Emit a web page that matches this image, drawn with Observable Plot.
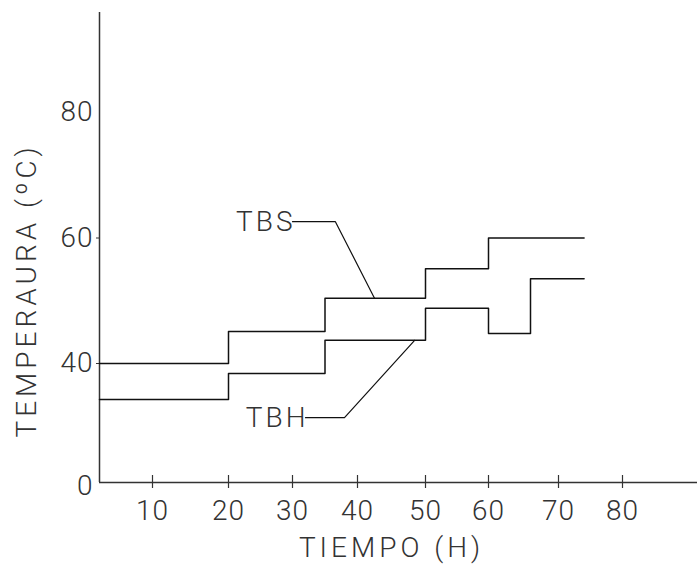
<!DOCTYPE html>
<html>
<head>
<meta charset="utf-8">
<script src="https://cdn.jsdelivr.net/npm/d3@7"></script>
<script src="https://cdn.jsdelivr.net/npm/@observablehq/plot@0.6"></script>
<style>
  html, body { margin: 0; padding: 0; background: #fff; }
</style>
</head>
<body>
<div id="chart"></div>
<script>
// Time (h) and temperature (ºC) series
const tiempo = [0, 20, 35, 50, 60, 66, 74];
const tbs    = [40, 45.1, 50.4, 55.1, 60, 60, 60];
const tbh    = [27.9, 36.6, 43.7, 48.8, 44.8, 53.5, 53.5];

// Axis ticks
const xTicks = [10, 20, 30, 40, 50, 60, 70, 80];
const yTicks = [40, 60];
const yTop = [80];
const yZero = [0];

// Series labels with leader lines (data coordinates)
const labels = ["TBS", "TBH"];
const labelX = [30, 32];
const labelY = [62.6, 21.8];
const leaderTBS_x = [30, 36.6, 42.5];
const leaderTBS_y = [62.6, 62.6, 50.4];
const leaderTBH_x = [32, 38, 48.4];
const leaderTBH_y = [21.8, 21.8, 43.7];

const series = [];
tiempo.forEach((t, i) => {
  series.push({serie: "TBS", t, v: tbs[i]});
  series.push({serie: "TBH", t, v: tbh[i]});
});
const leaders = [];
leaderTBS_x.forEach((x, i) => leaders.push({k: "TBS", x, y: leaderTBS_y[i]}));
leaderTBH_x.forEach((x, i) => leaders.push({k: "TBH", x, y: leaderTBH_y[i]}));
const labelData = labels.map((s, i) => ({s, x: labelX[i], y: labelY[i]}));

// Hand-drawn (uneven) axis graduations of the original: piecewise maps
const xMap = d3.scaleLinear()
  .domain([0, 10, 20, 30, 40, 50, 60, 70, 80, 90])
  .range([0, 53, 129, 193, 258, 326, 389, 459, 523, 598]);
const yMap = d3.scaleLinear()
  .domain([0, 40, 80])
  .range([0, 119, 370]);

const font = {fontFamily: "Roboto", fontSize: 28, fontWeight: 300};
const ink = "#333";

const chart = Plot.plot({
  width: 698,
  height: 564,
  marginLeft: 99,
  marginRight: 1,
  marginTop: 12,
  marginBottom: 82,
  style: {fontFamily: "Roboto", fontSize: "28px", fontWeight: 300, color: ink, background: "#fff"},
  x: {transform: xMap, domain: [0, 598], range: [99, 697]},
  y: {transform: yMap, domain: [0, 370], range: [482, 112]},
  marks: [
    Plot.ruleX([0], {x: d => d, stroke: "#333", strokeWidth: 1.5}),
    Plot.ruleY([0], {y: d => d, stroke: "#333", strokeWidth: 1.5}),
    Plot.axisX(xTicks, {tickSize: 13, dy: -7, tickFormat: () => "", label: null, stroke: "#333", strokeWidth: 1.2}),
    Plot.axisX(xTicks, {tickSize: 0, tickPadding: 18, label: null, fill: ink, ...font}),
    Plot.axisY(yTicks, {tickSize: 3, tickPadding: 3, label: null, fill: ink, stroke: "#333", ...font}),
    Plot.axisY(yTop, {tickSize: 0, tickPadding: 6, label: null, fill: ink, ...font}),
    Plot.axisY(yZero, {tickSize: 0, tickPadding: 6, dy: 4, label: null, fill: ink, ...font}),
    Plot.line(series, {x: "t", y: "v", z: "serie", curve: "step-after", stroke: "#111", strokeWidth: 1.5}),
    Plot.line(leaders, {x: "x", y: "y", z: "k", stroke: "#111", strokeWidth: 1.2}),
    Plot.text(labelData, {x: "x", y: "y", text: "s", textAnchor: "end", dx: 3, fill: ink, ...font}),
    Plot.text(["TIEMPO (H)"], {frameAnchor: "bottom", textAnchor: "middle", lineAnchor: "middle",
      dx: -7, dy: 66, fill: ink, ...font}),
    Plot.text(["TEMPERAURA (ºC)"], {frameAnchor: "left", textAnchor: "middle", lineAnchor: "middle",
      rotate: -90, dx: -72, dy: 43, fill: ink, ...font})
  ]
});
// letter spacing for the wide, stroke-font look of the original
d3.select(chart).selectAll("text").style("letter-spacing", "1px");
d3.select(chart).selectAll("text").filter(function() {
  const t = this.textContent;
  return t === "TIEMPO (H)" || t === "TEMPERAURA (ºC)";
}).style("letter-spacing", "4px");
d3.select(chart).selectAll("text").filter(function() {
  const t = this.textContent;
  return t === "TBS" || t === "TBH";
}).style("letter-spacing", "3px");
document.getElementById("chart").appendChild(chart);
</script>
</body>
</html>
